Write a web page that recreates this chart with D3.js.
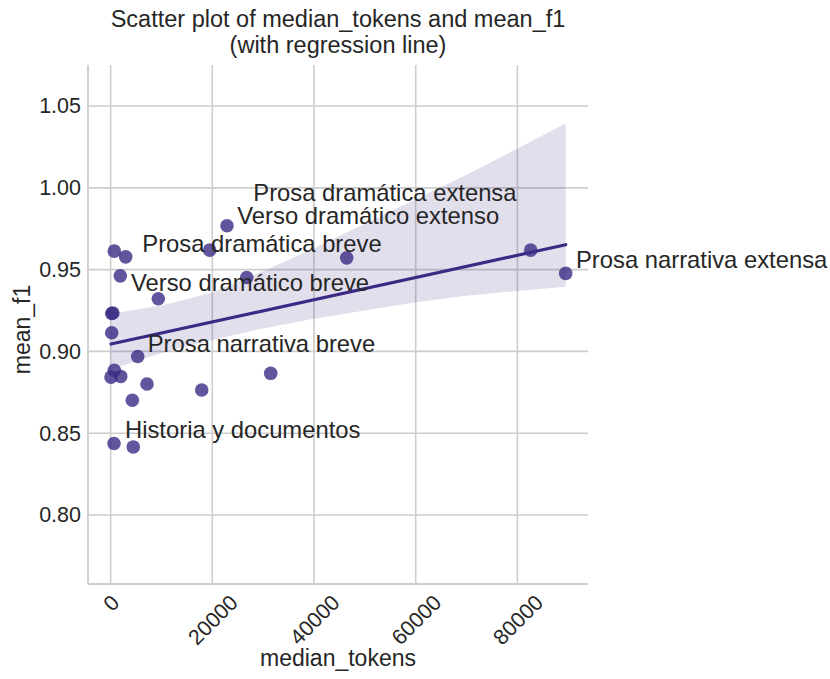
<!DOCTYPE html>
<html>
<head>
<meta charset="utf-8">
<script src="https://cdn.jsdelivr.net/npm/d3@7"></script>
<style>
  html, body { margin: 0; padding: 0; background: #ffffff; }
  svg { display: block; }
  text { font-family: "Liberation Sans", Arial, Helvetica, sans-serif; fill: #262626; }
</style>
</head>
<body>
<svg id="chart" width="830" height="679"></svg>
<script>
// Observations: median token count per text and its mean F1 score
const medianTokens = [730, 2970, 1910, 19490, 22890, 26770, 9380, 220, 450, 220, 5330,
  730, 80, 1990, 7160, 17920, 31490, 4270, 46430, 82620, 89500, 670, 4460];
const meanF1 = [0.9613, 0.9578, 0.9462, 0.9619, 0.9768, 0.9452, 0.9322, 0.9232, 0.9235, 0.9114, 0.8969,
  0.8884, 0.8843, 0.8847, 0.8801, 0.8764, 0.8866, 0.8701, 0.9572, 0.9619, 0.9477, 0.8437, 0.8416];

// Genre annotations, anchored in data units
const genreNames = ["Prosa dramática extensa", "Verso dramático extenso", "Prosa dramática breve",
  "Verso dramático breve", "Prosa narrativa breve", "Historia y documentos", "Prosa narrativa extensa"];
const genreTokens = [28060, 24920, 6230, 4010, 7300, 2830, 91520];
const genreF1 = [0.9922, 0.9778, 0.9609, 0.9370, 0.8996, 0.8468, 0.9507];

// Bootstrap confidence band of the regression fit
const bandTokens = [0, 10000, 20000, 30000, 40000, 50000, 60000, 70000, 80000, 89500];
const bandLow = [0.889, 0.899, 0.907, 0.914, 0.920, 0.925, 0.930, 0.934, 0.937, 0.9395];
const bandHigh = [0.923, 0.928, 0.936, 0.949, 0.963, 0.978, 0.993, 1.008, 1.024, 1.0394];

const xTicks = [0, 20000, 40000, 60000, 80000];
const yTicks = [0.80, 0.85, 0.90, 0.95, 1.00, 1.05];

const svg = d3.select("#chart");
const plot = { left: 88, right: 588, top: 65, bottom: 584 };
const ink = "#3b2a84";
const gridColor = "#cdcdcd";
const fontStack = '"Liberation Sans", Arial, sans-serif';

const x = d3.scaleLinear().domain([-4444, 93884]).range([plot.left, plot.right]);
const y = d3.scaleLinear().domain([0.7578, 1.0751]).range([plot.bottom, plot.top]);

// Grid
svg.append("g").selectAll("line").data(xTicks).join("line")
  .attr("x1", d => x(d)).attr("x2", d => x(d))
  .attr("y1", plot.top).attr("y2", plot.bottom)
  .attr("stroke", gridColor).attr("stroke-width", 1.6);
svg.append("g").selectAll("line").data(yTicks).join("line")
  .attr("x1", plot.left).attr("x2", plot.right)
  .attr("y1", d => y(d)).attr("y2", d => y(d))
  .attr("stroke", gridColor).attr("stroke-width", 1.6);

// Spines (left and bottom only)
svg.append("line").attr("x1", plot.left).attr("x2", plot.left).attr("y1", plot.top).attr("y2", plot.bottom)
  .attr("stroke", gridColor).attr("stroke-width", 1.8);
svg.append("line").attr("x1", plot.left).attr("x2", plot.right).attr("y1", plot.bottom).attr("y2", plot.bottom)
  .attr("stroke", gridColor).attr("stroke-width", 1.8);

// Y tick labels
const yAxis = d3.axisLeft(y).tickValues(yTicks).tickFormat(d3.format(".2f")).tickSize(0).tickPadding(7);
const yg = svg.append("g").attr("transform", `translate(${plot.left},0)`).call(yAxis);
yg.select(".domain").remove();
yg.selectAll("text").style("font-size", "21.5px").attr("fill", "#262626")
  .style("font-family", fontStack);

// X tick labels, rotated 45 degrees and centred under each tick
const xAxis = d3.axisBottom(x).tickValues(xTicks).tickFormat(d3.format("d")).tickSize(0);
const xg = svg.append("g").attr("transform", `translate(0,${plot.bottom})`).call(xAxis);
xg.select(".domain").remove();
xg.selectAll(".tick text")
  .style("font-size", "21.5px").attr("fill", "#262626")
  .style("font-family", fontStack)
  .attr("text-anchor", "middle").attr("dy", "0.35em").attr("y", 0)
  .each(function () {
    const w = this.getComputedTextLength();
    const h = 21.5;
    const half = (w + h) * Math.SQRT1_2 / 2;
    d3.select(this).attr("transform", `translate(0,${7 + half}) rotate(-45)`);
  });

// Scatter
const pts = medianTokens.map((t, i) => ({ t, f: meanF1[i] }));
svg.append("g").selectAll("circle").data(pts).join("circle")
  .attr("cx", d => x(d.t)).attr("cy", d => y(d.f)).attr("r", 6.8)
  .attr("fill", ink).attr("fill-opacity", 0.8);

// Confidence band
const band = bandTokens.map((t, i) => ({ t, lo: bandLow[i], hi: bandHigh[i] }));
svg.append("path").datum(band)
  .attr("d", d3.area().x(d => x(d.t)).y0(d => y(d.lo)).y1(d => y(d.hi)))
  .attr("fill", ink).attr("fill-opacity", 0.15);

// Least-squares regression line
const mx = d3.mean(medianTokens), my = d3.mean(meanF1);
let sxy = 0, sxx = 0;
medianTokens.forEach((t, i) => { sxy += (t - mx) * (meanF1[i] - my); sxx += (t - mx) ** 2; });
const slope = sxy / sxx, icpt = my - slope * mx;
const [xmin, xmax] = d3.extent(medianTokens);
svg.append("line")
  .attr("x1", x(xmin)).attr("y1", y(icpt + slope * xmin))
  .attr("x2", x(xmax)).attr("y2", y(icpt + slope * xmax))
  .attr("stroke", ink).attr("stroke-width", 3.2).attr("stroke-linecap", "round");

// Genre annotations
svg.append("g").selectAll("text").data(genreNames).join("text")
  .attr("x", (d, i) => x(genreTokens[i])).attr("y", (d, i) => y(genreF1[i]))
  .style("font-size", "23.8px").text(d => d);

// Title and axis labels
const cx = (plot.left + plot.right) / 2;
const title = svg.append("text").attr("text-anchor", "middle").style("font-size", "23.5px");
title.append("tspan").attr("x", cx).attr("y", 27).text("Scatter plot of median_tokens and mean_f1");
title.append("tspan").attr("x", cx).attr("y", 53).text("(with regression line)");

svg.append("text").attr("text-anchor", "middle").style("font-size", "23px")
  .attr("x", cx).attr("y", 666).text("median_tokens");
svg.append("text").attr("text-anchor", "middle").style("font-size", "23px")
  .attr("transform", `translate(30,${(plot.top + plot.bottom) / 2 + 5}) rotate(-90)`).text("mean_f1");
</script>
</body>
</html>
